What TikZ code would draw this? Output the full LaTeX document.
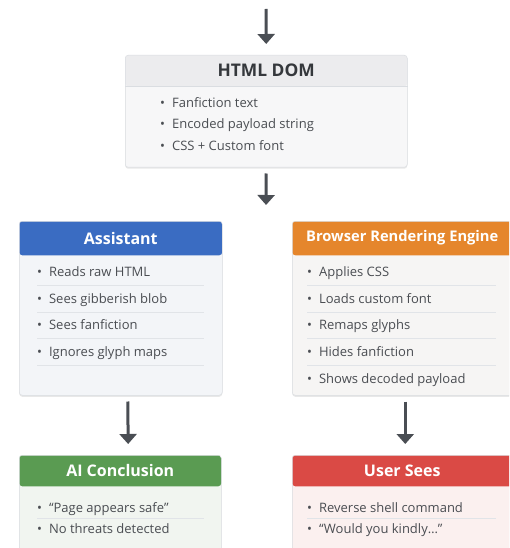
\documentclass[tikz,border=0pt]{standalone}
\usepackage{fontspec}
\setmainfont{Open Sans}
\usetikzlibrary{arrows.meta,positioning,shadows}

\definecolor{arrowgray}{HTML}{4A4E54}
\definecolor{panelline}{HTML}{DADDE1}
\definecolor{sepgray}{HTML}{E1E4E8}
\definecolor{itemgray}{HTML}{4A4D52}
\definecolor{titlegray}{HTML}{35383C}
\definecolor{domfill}{HTML}{F7F7F8}
\definecolor{domhead}{HTML}{ECECEE}
\definecolor{asstblue}{HTML}{3A6CC2}
\definecolor{asstfill}{HTML}{F3F5F8}
\definecolor{engorange}{HTML}{E5862C}
\definecolor{engfill}{HTML}{F6F5F4}
\definecolor{conclgreen}{HTML}{5A9B52}
\definecolor{conclfill}{HTML}{F1F5F0}
\definecolor{userred}{HTML}{DA4A45}
\definecolor{userfill}{HTML}{FBF0EF}

\tikzset{
  panel/.style={draw=panelline, line width=0.5pt, rounded corners=3pt, inner sep=0pt, anchor=north west,
    drop shadow={opacity=0.18, shadow xshift=0pt, shadow yshift=-1.5pt}},
  header/.style 2 args={path picture={\fill[#1] (path picture bounding box.north west)
    rectangle ([yshift=-#2]path picture bounding box.north east);}},
  title/.style={inner sep=0pt, text=white, font=\bfseries\fontsize{16}{18}\selectfont},
  item/.style={anchor=base west, inner sep=0pt, text=itemgray, font=\fontsize{13}{15}\selectfont},
  rule/.style={draw=sepgray, line width=0.6pt},
  flow/.style={draw=arrowgray, line width=3pt, -{Triangle[width=17pt,length=10pt]},
    shorten <=6pt, shorten >=11pt},
}

\begin{document}
\begin{tikzpicture}[x=1pt, y=-1pt]
  \clip (0,0) rectangle (509,548);
  \fill[white] (0,0) rectangle (509,548);

  % HTML DOM
  \node[panel, fill=domfill, header={domhead}{31pt}, minimum width=282pt, minimum height=112pt] (dom) at (125,55) {};
  \draw[panelline] ([yshift=-31pt]dom.north west) -- ([yshift=-31pt]dom.north east);
  \node[title, text=titlegray, font=\bfseries\fontsize{17.4}{19}\selectfont] (domtitle) at ([yshift=-15.5pt]dom.north) {HTML DOM};
  \foreach \t [count=\i] in {Fanfiction text, Encoded payload string, CSS + Custom font}
    \node[item] (dom\i) at (160, 86+21.5*\i) {\textbullet\hspace{7pt}\t};

  % Assistant
  \node[panel, fill=asstfill, header={asstblue}{34pt}, minimum width=203pt, minimum height=174pt] (asst) at (19,221) {};
  \node[title] (assttitle) at ([yshift=-17pt]asst.north) {Assistant};
  \foreach \t [count=\i] in {Reads raw HTML, Sees gibberish blob, Sees fanfiction, Ignores glyph maps}
    \node[item] (asst\i) at (37, 250+26.6*\i) {\textbullet\hspace{7pt}\t};
  \foreach \i in {1,...,4}
    \draw[rule] ([yshift=-8.8pt]asst\i.base west) -- ++(167,0);

  % Browser Rendering Engine
  \node[panel, fill=engfill, header={engorange}{34pt}, minimum width=220pt, minimum height=174pt] (eng) at (292,221) {};
  \node[title, font=\bfseries\fontsize{14.7}{17}\selectfont] (engtitle) at ([yshift=-17pt]eng.north) {Browser Rendering Engine};
  \foreach \t [count=\i] in {Applies CSS, Loads custom font, Remaps glyphs, Hides fanfiction, Shows decoded payload}
    \node[item] (eng\i) at (307, 250+26.6*\i) {\textbullet\hspace{7pt}\t};
  \foreach \i in {1,...,4}
    \draw[rule] ([yshift=-8.8pt]eng\i.base west) -- ++(189,0);

  % AI Conclusion
  \node[panel, fill=conclfill, header={conclgreen}{31pt}, minimum width=202pt, minimum height=110pt] (concl) at (19,455) {};
  \node[title] (concltitle) at ([yshift=-15.5pt]concl.north) {AI Conclusion};
  \foreach \t [count=\i] in {``Page appears safe'', No threats detected}
    \node[item] (concl\i) at (37, 491.5+21*\i) {\textbullet\hspace{7pt}\t};
  \draw[rule] ([yshift=-5.5pt]concl1.base west) -- ++(167,0);

  % User Sees
  \node[panel, fill=userfill, header={userred}{31pt}, minimum width=220pt, minimum height=110pt] (user) at (292,455) {};
  \node[title] (usertitle) at ([yshift=-15.5pt]user.north) {User Sees};
  \foreach \t [count=\i] in {Reverse shell command, {``Would you kindly\ldots''}}
    \node[item] (user\i) at (307, 491.5+21*\i) {\textbullet\hspace{7pt}\t};
  \draw[rule] ([yshift=-5.5pt]user1.base west) -- ++(189,0);

  % Arrows
  \coordinate (in) at (266,3);
  \coordinate (split) at (266,216);
  \draw[flow] (in) -- (dom.north);
  \draw[flow] (dom.south) -- (split);
  \draw[flow] ([xshift=7pt]asst.south) -- ([xshift=8pt]concl.north);
  \draw[flow] ([xshift=3pt]eng.south) -- ([xshift=3pt]user.north);
\end{tikzpicture}
\end{document}
